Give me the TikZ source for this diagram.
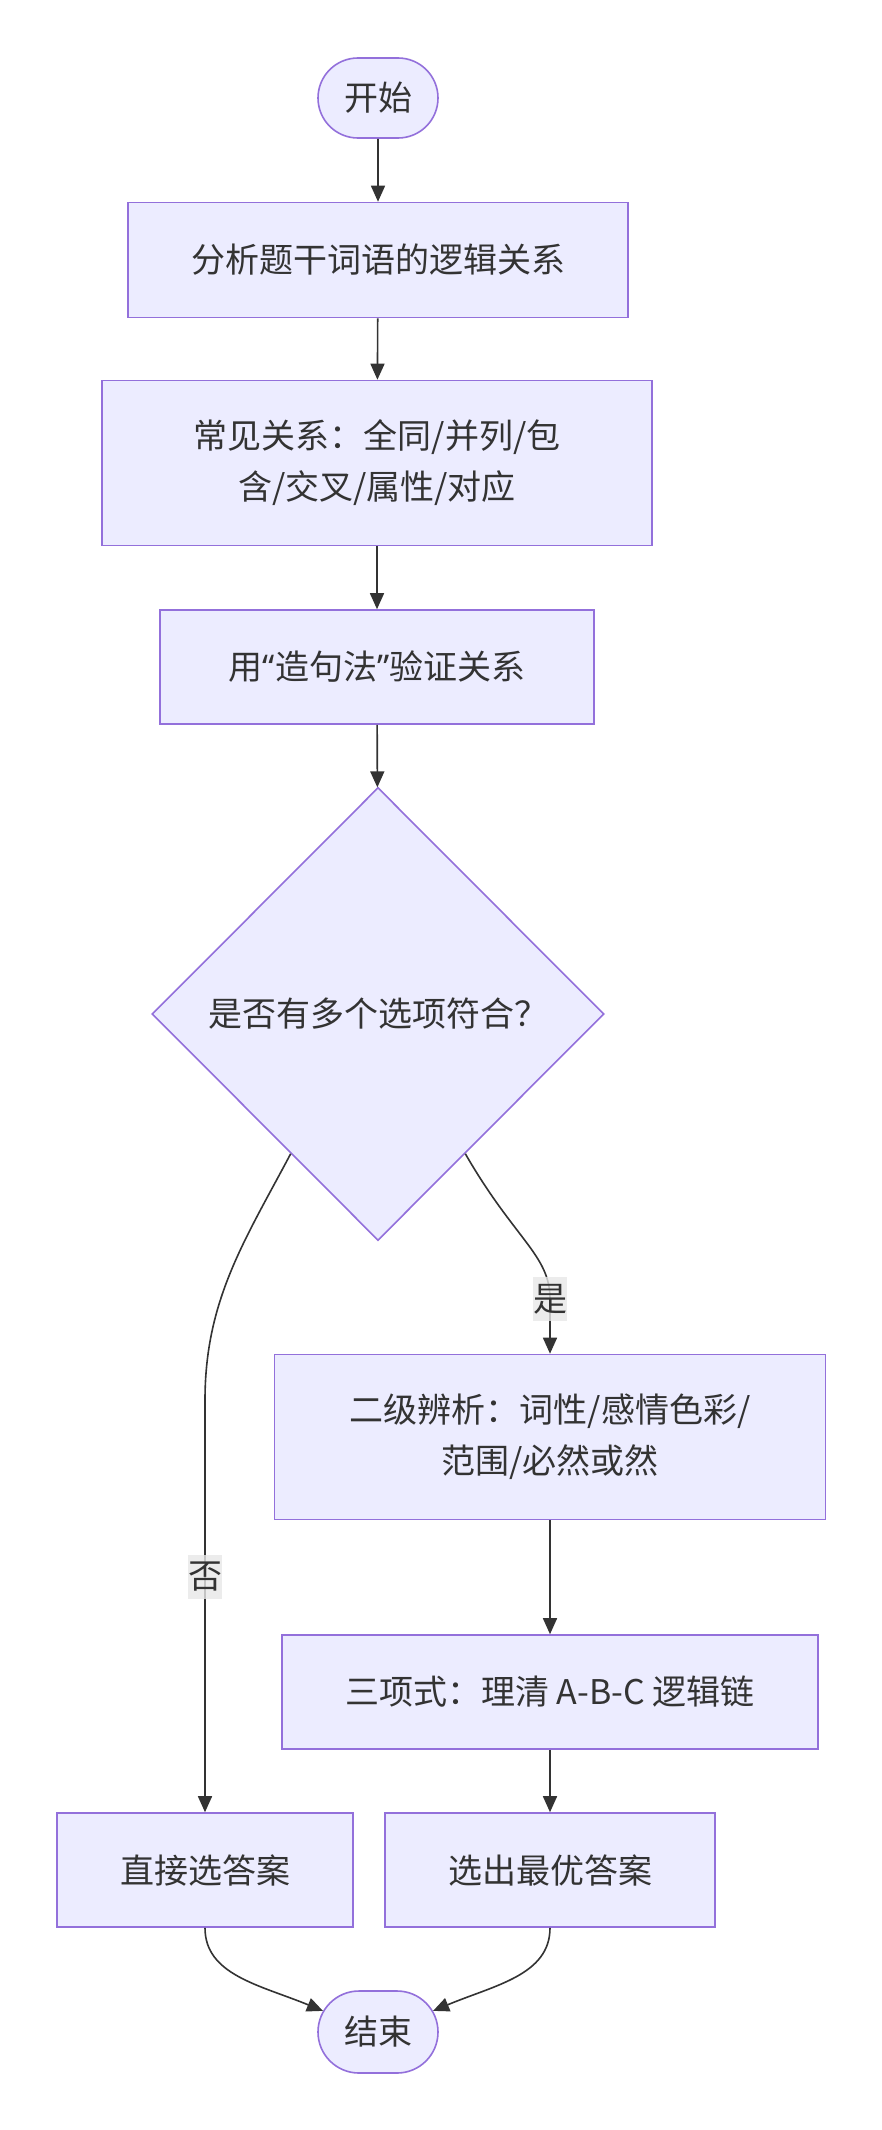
\documentclass[tikz,border=0pt]{standalone}
\usepackage{fontspec}
\setmainfont{Noto Sans CJK SC}
\newfontfamily\latinfont{Noto Sans}
\usetikzlibrary{arrows.meta,shapes.geometric,shapes.misc}

\definecolor{nodefill}{HTML}{ECECFF}
\definecolor{nodeline}{HTML}{9370DB}
\definecolor{ink}{HTML}{333333}
\definecolor{lblfill}{HTML}{E8E8E8}

\tikzset{
  box/.style={draw=nodeline, fill=nodefill, line width=1.6pt, text=ink, align=center,
    font=\fontsize{34}{51}\selectfont, inner sep=0pt},
  term/.style={box, rounded rectangle},
  ask/.style={box, diamond},
  lbl/.style={fill=lblfill, fill opacity=0.8, text opacity=1, text=ink,
    font=\fontsize{34}{51}\selectfont, inner xsep=0pt, inner ysep=7pt},
  flow/.style={->, draw=ink, line width=1.6pt},
}

\begin{document}
\begin{tikzpicture}[x=1pt, y=-1pt, >={Triangle[length=16pt,width=14pt]}]
\fill[white] (0,0) rectangle (882,2130);
% main column
\node[term, minimum width=120pt, minimum height=80pt] (start) at (378,98) {开始};
\node[box, minimum width=500pt, minimum height=115pt] (analyse) at (378,260) {分析题干词语的逻辑关系};
\node[box, minimum width=550pt, minimum height=165pt] (common) at (377,463) {常见关系：全同/并列/包\\含/交叉/属性/对应};
\node[box, minimum width=434pt, minimum height=114pt] (verify) at (377,667) {用{\latinfont “}造句法{\latinfont ”}验证关系};
\node[ask, minimum width=452pt, minimum height=453pt] (multi) at (378,1014) {是否有多个选项符合？};
% branches
\node[box, minimum width=551pt, minimum height=165pt] (second) at (550,1437) {二级辨析：词性/感情色彩/\\范围/必然或然};
\node[box, minimum width=536pt, minimum height=114pt] (triple) at (550,1692) {三项式：理清 A-B-C 逻辑链};
\node[box, minimum width=330pt, minimum height=114pt] (best) at (550,1870) {选出最优答案};
\node[box, minimum width=296pt, minimum height=114pt] (direct) at (205,1870) {直接选答案};
\node[term, minimum width=120pt, minimum height=82pt] (finish) at (378,2032) {结束};

\draw[flow] (start) -- (analyse);
\draw[flow] (analyse) -- (common);
\draw[flow] (common) -- (verify);
\draw[flow] (verify) -- (multi);
\draw[flow] (multi.-58) .. controls (515,1240) and (550,1255) .. (550,1299) node[lbl] {是} -- (second);
\draw[flow] (multi.-122) .. controls (245,1240) and (205,1300) .. (205,1400) -- (205,1577) node[lbl] {否} -- (direct);
\draw[flow] (second) -- (triple);
\draw[flow] (triple) -- (best);
\draw[flow] (direct.south) .. controls (205,1975) and (260,1985) .. (finish.159);
\draw[flow] (best.south) .. controls (550,1975) and (495,1985) .. (finish.21);
\end{tikzpicture}
\end{document}
